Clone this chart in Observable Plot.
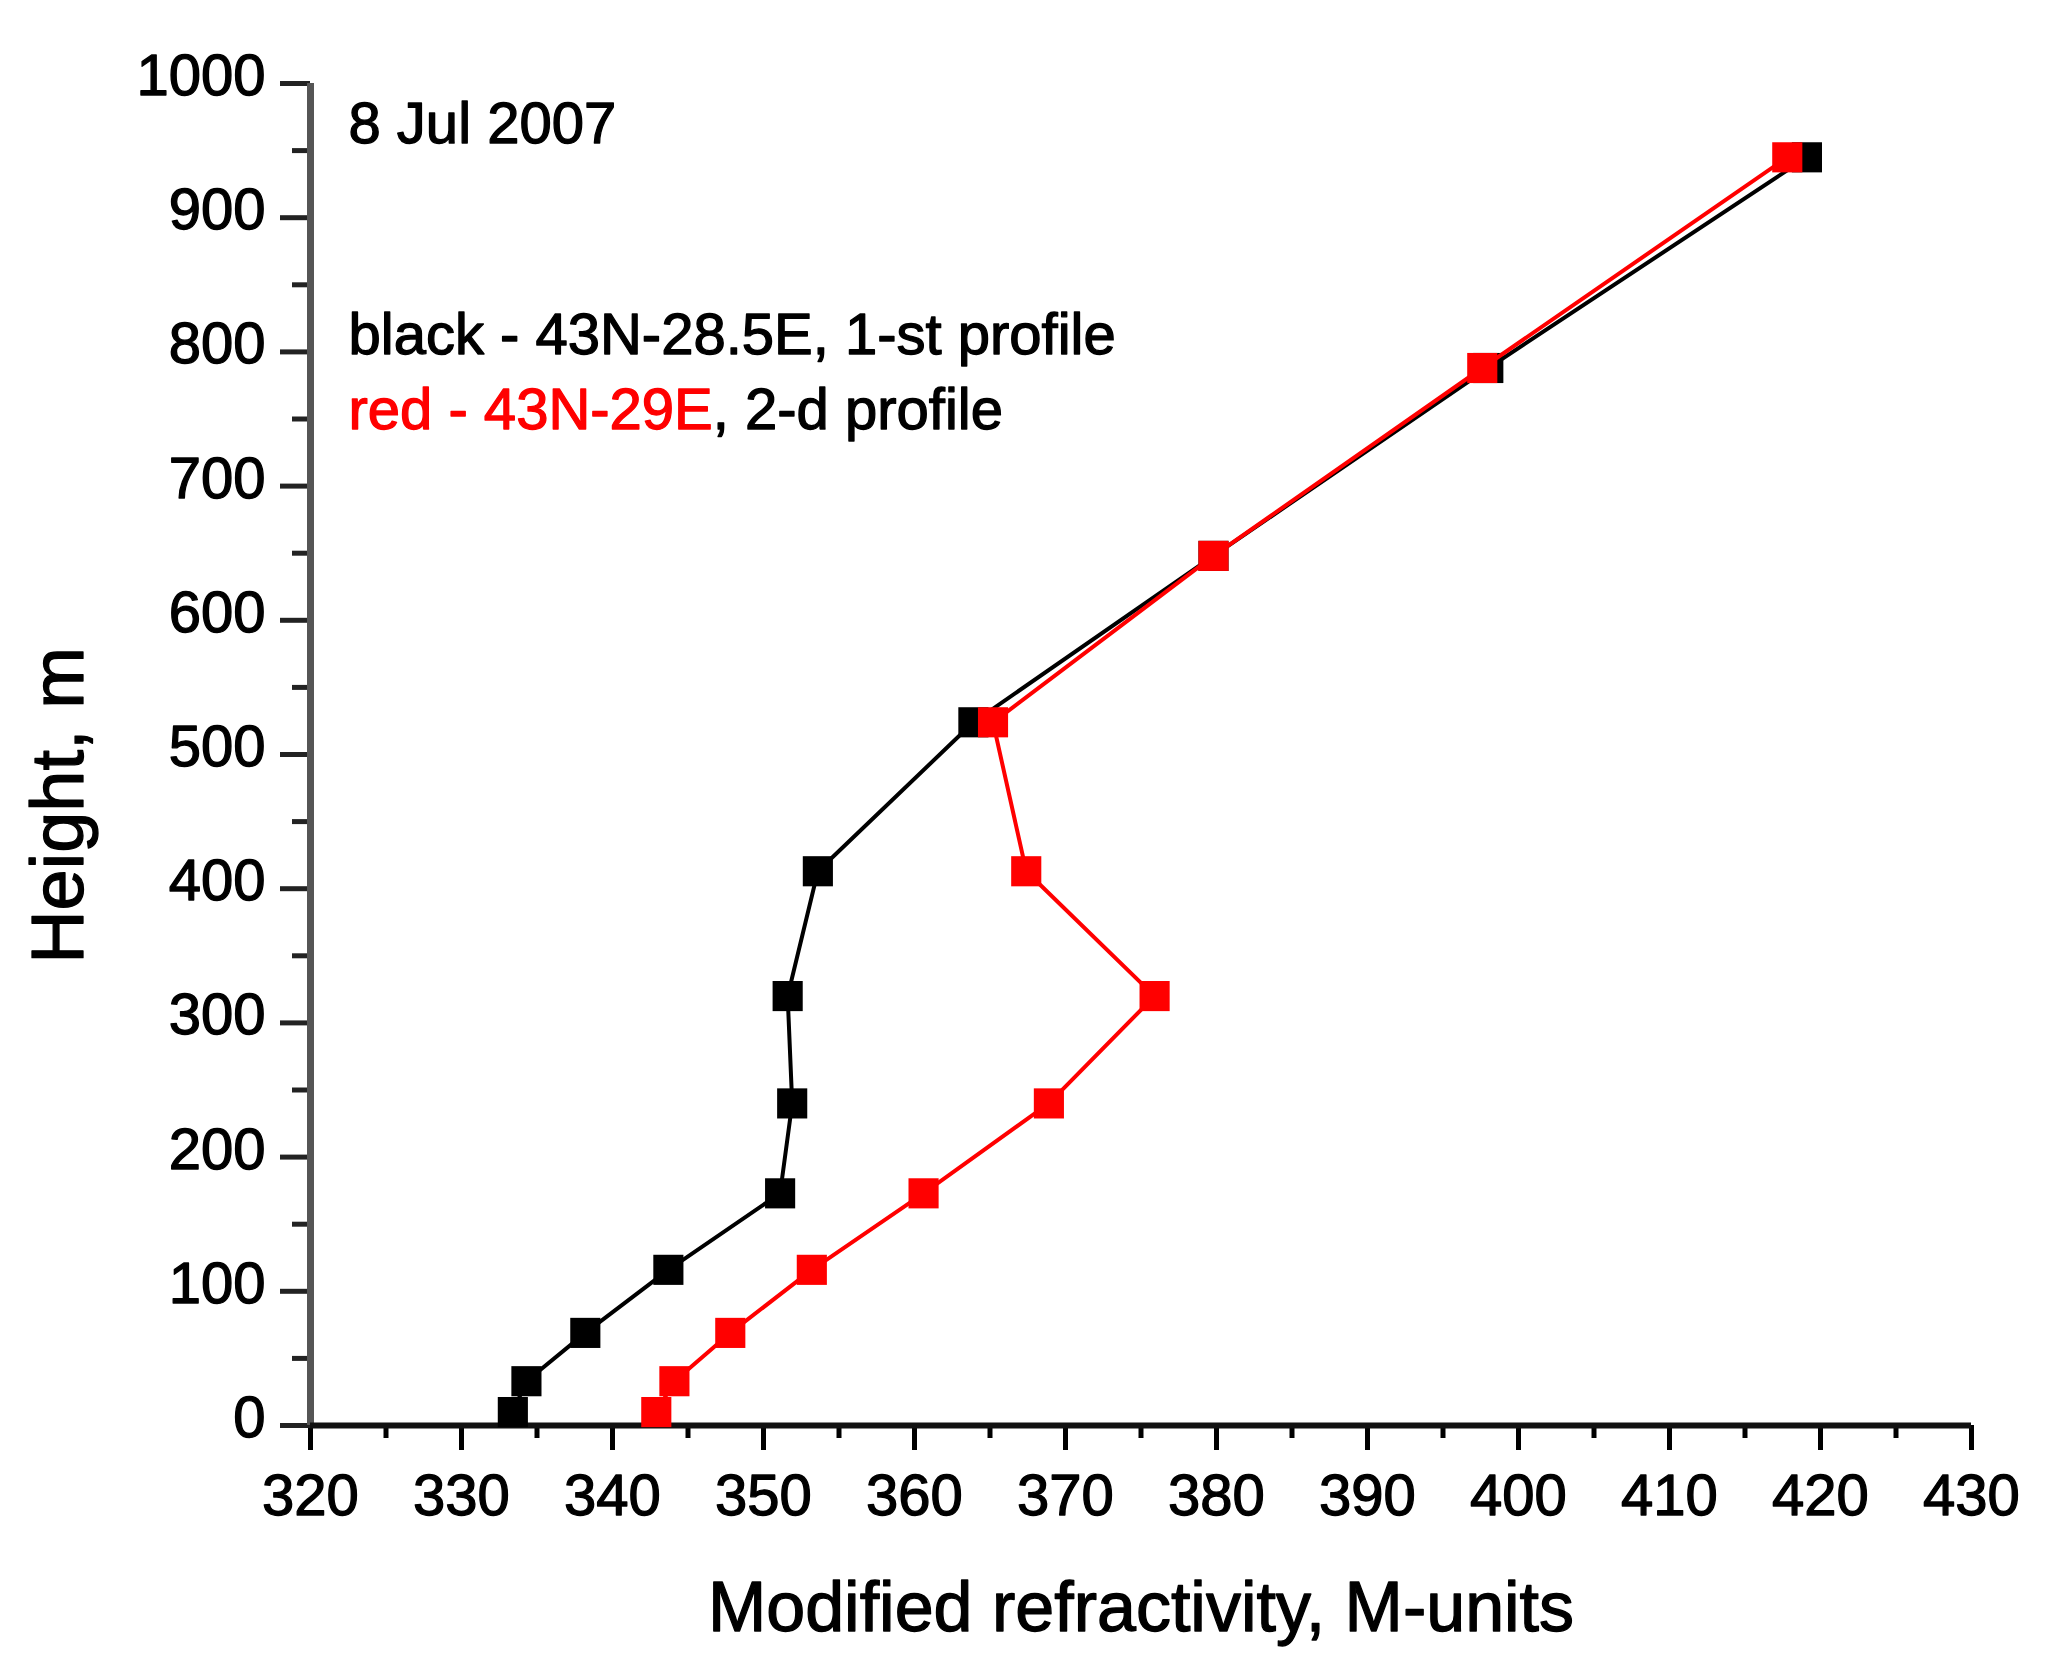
<!DOCTYPE html>
<html>
<head>
<meta charset="utf-8">
<script src="https://cdn.jsdelivr.net/npm/d3@7"></script>
<script src="https://cdn.jsdelivr.net/npm/@observablehq/plot@0.6"></script>
<style>
  html, body { margin: 0; padding: 0; background: #fff; }
  #chart svg { display: block; }
</style>
</head>
<body>
<div id="chart"></div>
<script>
// Height levels (m) of the two profiles
const heights = [10, 33, 69, 116, 173, 240, 320, 413, 524, 648, 788, 945];
// Modified refractivity (M-units), black: 43N-28.5E, 1-st profile
const blackM = [333.4, 334.3, 338.2, 343.7, 351.1, 351.9, 351.6, 353.6, 363.9, 379.8, 398.0, 419.1];
// Modified refractivity (M-units), red: 43N-29E, 2-d profile
const redM = [342.9, 344.1, 347.8, 353.2, 360.6, 368.9, 375.9, 367.4, 365.2, 379.8, 397.6, 417.8];

const xMajorTicks = [320, 330, 340, 350, 360, 370, 380, 390, 400, 410, 420, 430];
const xMinorTicks = [325, 335, 345, 355, 365, 375, 385, 395, 405, 415, 425];
const yMajorTicks = [0, 100, 200, 300, 400, 500, 600, 700, 800, 900, 1000];
const yMinorTicks = [50, 150, 250, 350, 450, 550, 650, 750, 850, 950];

const dateText = "8 Jul 2007";
const legendBlack = "black - 43N-28.5E, 1-st profile";
const legendRedPart = "red - 43N-29E";
const legendBlackPart = ", 2-d profile";
const xTitle = "Modified refractivity, M-units";
const yTitle = "Height, m";

const black = heights.map((h, i) => ({h, m: blackM[i]}));
const red = heights.map((h, i) => ({h, m: redM[i]}));

const FONT = "'Liberation Sans', Arial, sans-serif";
const ctx = document.createElement("canvas").getContext("2d");
ctx.font = "58px 'Liberation Sans', Arial, sans-serif";
const redW = ctx.measureText(legendRedPart).width;

const heavy = (color) => ({stroke: color, strokeWidth: 1.3});

const chart = Plot.plot({
  width: 2050,
  height: 1676,
  marginLeft: 310,
  marginRight: 79,
  marginTop: 83,
  marginBottom: 251,
  style: {fontFamily: FONT, background: "white", color: "black"},
  x: {domain: [320, 430]},
  y: {domain: [0, 1000]},
  marks: [
    // minor ticks
    Plot.axisX({ticks: xMinorTicks, tickSize: 13, strokeWidth: 5, fill: null, label: null}),
    Plot.axisY({ticks: yMinorTicks, tickSize: 18, strokeWidth: 5, stroke: "#222", fill: null, label: null}),
    // major ticks
    Plot.axisX({ticks: xMajorTicks, tickSize: 25, strokeWidth: 5, fill: null, label: null}),
    Plot.axisY({ticks: yMajorTicks, tickSize: 30, strokeWidth: 5, stroke: "#222", fill: null, label: null}),
    // tick labels
    Plot.axisX({ticks: xMajorTicks, tickSize: 0, tickPadding: 48, fontSize: 58, tickFormat: d => String(d), label: null, textStroke: "black", textStrokeWidth: 1.3}),
    Plot.axisY({ticks: yMajorTicks, tickSize: 0, tickPadding: 45, dy: -7, fontSize: 58, tickFormat: d => String(d), label: null, textStroke: "black", textStrokeWidth: 1.3}),
    // axis lines
    Plot.ruleX([320], {stroke: "#555", strokeWidth: 7}),
    Plot.ruleY([0], {stroke: "#111", strokeWidth: 6}),
    // series
    Plot.line(black, {x: "m", y: "h", stroke: "black", strokeWidth: 4}),
    Plot.dot(black, {x: "m", y: "h", symbol: "square", r: 17, fill: "black"}),
    Plot.line(red, {x: "m", y: "h", stroke: "#ff0000", strokeWidth: 4}),
    Plot.dot(red, {x: "m", y: "h", symbol: "square", r: 17, fill: "#ff0000"}),
    // annotations
    Plot.text([dateText], {frameAnchor: "top-left", text: d => d, textAnchor: "start", lineAnchor: "bottom", dx: 38, dy: 59, fontSize: 58, fill: "black", ...heavy("black")}),
    Plot.text([legendBlack], {frameAnchor: "top-left", text: d => d, textAnchor: "start", lineAnchor: "bottom", dx: 38, dy: 270, fontSize: 58, fill: "black", ...heavy("black")}),
    Plot.text([legendRedPart], {frameAnchor: "top-left", text: d => d, textAnchor: "start", lineAnchor: "bottom", dx: 38, dy: 345, fontSize: 58, fill: "#ff0000", ...heavy("#ff0000")}),
    Plot.text([legendBlackPart], {frameAnchor: "top-left", text: d => d, textAnchor: "start", lineAnchor: "bottom", dx: 38 + redW, dy: 345, fontSize: 58, fill: "black", ...heavy("black")}),
    // axis titles
    Plot.text([xTitle], {frameAnchor: "bottom", text: d => d, textAnchor: "middle", lineAnchor: "bottom", dy: 205, fontSize: 70, fill: "black", ...heavy("black")}),
    Plot.text([yTitle], {frameAnchor: "left", text: d => d, textAnchor: "middle", lineAnchor: "middle", rotate: -90, dx: -251, dy: 51, fontSize: 74, fill: "black", ...heavy("black")})
  ]
});
document.getElementById("chart").appendChild(chart);
</script>
</body>
</html>
